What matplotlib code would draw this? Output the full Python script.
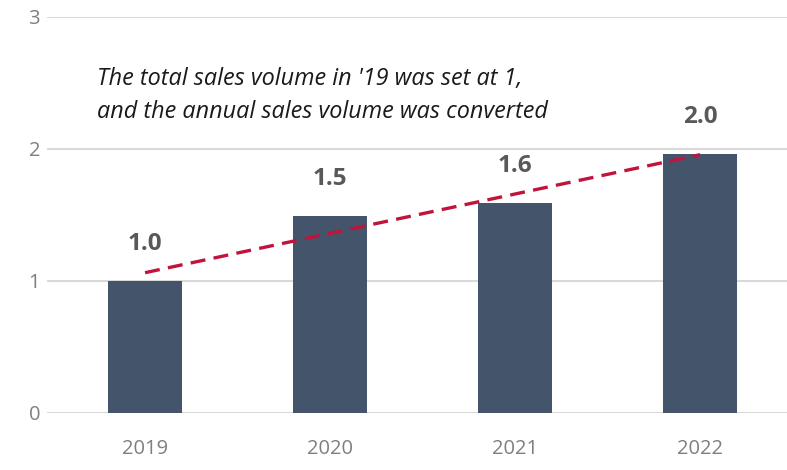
import numpy as np
import matplotlib.pyplot as plt

# sales volume index, 2019 = 1
years = ["2019", "2020", "2021", "2022"]
sales_index = [1.0, 1.49, 1.59, 1.96]

note_text = "The total sales volume in '19 was set at 1,\nand the annual sales volume was converted"

bar_color = "#44546A"
trend_color = "#C0143C"
grid_color = "#D9D9D9"
tick_color = "#7F7F7F"
label_color = "#595959"
fonts = ["Open Sans", "DejaVu Sans"]

fig = plt.figure(figsize=(7.87, 4.70), dpi=100)
ax = fig.add_axes([47 / 787, 57 / 470, 740 / 787, 396 / 470])

x = np.arange(len(years))
ax.bar(x, sales_index, width=0.4, color=bar_color, zorder=2)

# linear trend over the four years
coef = np.polyfit(x, sales_index, 1)
xt = np.array([x[0], x[-1]])
ax.plot(xt, np.polyval(coef, xt), color=trend_color, lw=2.4,
        dashes=(4.5, 2.5), zorder=3, solid_capstyle="butt")

for xi, v in zip(x, sales_index):
    ax.annotate(f"{v:.1f}", (xi, v), xytext=(0, 27), textcoords="offset points",
                ha="center", va="center", fontsize=17.5, fontweight="bold",
                color=label_color, family=fonts)

ax.set_xlim(-0.53, 3.47)
ax.set_ylim(0, 3)
ax.set_yticks([0, 1, 2, 3])
ax.set_xticks(x)
ax.set_xticklabels(years)
ax.grid(axis="y", color=grid_color, lw=1.5, zorder=0)
ax.set_axisbelow(True)
for s in ax.spines.values():
    s.set_visible(False)
ax.tick_params(length=0, colors=tick_color, labelsize=14.5)
ax.tick_params(axis="x", pad=19)
ax.tick_params(axis="y", pad=5)
for t in ax.get_xticklabels() + ax.get_yticklabels():
    t.set_family(fonts)

fig.text(97 / 787, 1 - 96 / 470, note_text, ha="left", va="center",
         fontsize=16.8, style="italic", color="#1A1A1A", linespacing=1.5,
         family=fonts)

fig.savefig("out.png", dpi=100)
